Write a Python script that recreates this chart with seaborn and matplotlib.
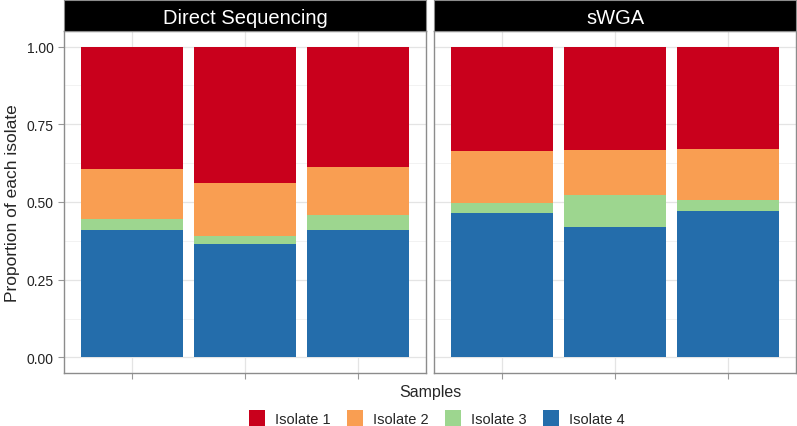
import pandas as pd
import seaborn as sns
import numpy as np
import matplotlib.pyplot as plt
from matplotlib.patches import Patch

methods = ['Direct Sequencing', 'sWGA']
samples = ['S1', 'S2', 'S3']
isolates = ['Isolate 1', 'Isolate 2', 'Isolate 3', 'Isolate 4']
colors = ['#C9001C', '#F99E52', '#9DD68F', '#246DAB']

# proportions per sample
isolate4 = [0.411, 0.364, 0.411, 0.464, 0.421, 0.470]
isolate3 = [0.035, 0.026, 0.047, 0.034, 0.101, 0.036]
isolate2 = [0.159, 0.172, 0.155, 0.165, 0.145, 0.164]
isolate1 = [0.395, 0.438, 0.387, 0.337, 0.333, 0.330]

df = pd.DataFrame({
    'method': np.repeat(methods, 3),
    'sample': samples * 2,
    'Isolate 4': isolate4,
    'Isolate 3': isolate3,
    'Isolate 2': isolate2,
    'Isolate 1': isolate1,
})
# cumulative heights from the bottom (isolate 4) upwards
cum = df[['Isolate 4', 'Isolate 3', 'Isolate 2', 'Isolate 1']].cumsum(axis=1)
cum['method'] = df['method']
cum['sample'] = df['sample']

sns.set_style('white')
plt.rcParams['font.family'] = ['Liberation Sans', 'DejaVu Sans']

fig = plt.figure(figsize=(7.97, 4.27), dpi=100)
W, H = 797, 427
lefts = [64, 434]
rights = [426, 796]
top_px, bot_px = 32, 374

for i, m in enumerate(methods):
    ax = fig.add_axes([lefts[i] / W, 1 - bot_px / H, (rights[i] - lefts[i]) / W, (bot_px - top_px) / H])
    sub = cum[cum['method'] == m]
    for iso, col in zip(isolates, colors):
        sns.barplot(data=sub, x='sample', y=iso, color=col, width=0.9,
                    saturation=1, ax=ax, zorder=3, linewidth=0)
    ax.set_xlim(-0.6, 2.6)
    ax.set_ylim(-0.05, 1.05)
    ax.set_yticks([0, 0.25, 0.5, 0.75, 1.0])
    ax.set_yticks([0.125, 0.375, 0.625, 0.875], minor=True)
    ax.grid(True, which='major', color='#E4E4E4', linewidth=0.9, zorder=0)
    ax.grid(True, which='minor', axis='y', color='#F0F0F0', linewidth=0.6, zorder=0)
    ax.set_axisbelow(True)
    ax.set_xticks([0, 1, 2])
    ax.set_xticklabels([])
    ax.tick_params(axis='x', length=4, color='#999999', bottom=True, width=0.8)
    ax.tick_params(axis='y', length=4, color='#999999', left=True, width=0.8,
                   labelsize=10, labelcolor='#222222')
    ax.tick_params(axis='y', which='minor', length=0)
    if i == 0:
        ax.set_yticklabels(['0.00', '0.25', '0.50', '0.75', '1.00'])
        ax.set_ylabel('Proportion of each isolate', fontsize=12.5, labelpad=5)
    else:
        ax.set_yticklabels([])
        ax.tick_params(axis='y', left=False)
        ax.set_ylabel('')
    ax.set_xlabel('')
    for s in ax.spines.values():
        s.set_color('#8C8C8C')
        s.set_linewidth(1.0)
    # facet strip
    sax = fig.add_axes([lefts[i] / W, 1 - top_px / H, (rights[i] - lefts[i]) / W, (top_px - 1) / H])
    sax.set_facecolor('black')
    sax.set_xticks([])
    sax.set_yticks([])
    for s in sax.spines.values():
        s.set_color('#8C8C8C')
    sax.text(0.5, 0.45, m, color='white', fontsize=14.5, ha='center', va='center',
             transform=sax.transAxes)

fig.text((64 + 796) / 2 / W, 1 - 393 / H, 'Samples', ha='center', va='center', fontsize=11.5)

handles = [Patch(facecolor=c, edgecolor='none') for c in colors]
fig.legend(handles, isolates, loc='center', bbox_to_anchor=(437 / W, 1 - 419 / H),
           ncol=4, frameon=False, fontsize=10.5, handlelength=1.1, handleheight=1.3,
           columnspacing=1.1, handletextpad=0.7)

plt.savefig('out.png', dpi=100)
